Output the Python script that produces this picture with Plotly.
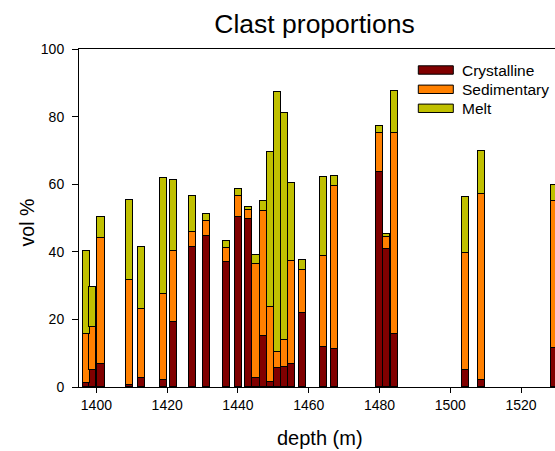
import plotly.graph_objects as go

# depth (m) of each sample
depth = [1397.1, 1399.0, 1401.3, 1409.4, 1412.8, 1418.9, 1421.8, 1427.1, 1431.1,
         1436.7, 1440.1, 1443.1, 1445.1, 1447.1, 1449.1, 1451.1, 1453.2, 1455.2,
         1458.3, 1464.1, 1467.4, 1480.1, 1482.1, 1484.3, 1504.4, 1508.7, 1529.5]

crystalline = [1.3, 4.9, 6.9, 0.5, 2.6, 2.0, 19.1, 41.4, 44.6,
               37.0, 50.3, 49.6, 2.8, 15.0, 1.6, 5.5, 6.0, 6.7,
               21.8, 11.8, 11.1, 63.6, 40.8, 15.6, 4.9, 2.0, 11.4]

sedimentary = [14.3, 12.9, 37.1, 31.3, 20.6, 25.4, 21.0, 4.4, 4.5,
               4.1, 6.3, 2.8, 33.5, 37.0, 22.2, 5.0, 7.8, 30.6,
               12.7, 27.0, 48.5, 11.5, 3.7, 59.5, 34.6, 55.0, 43.6]

melt = [24.5, 11.7, 6.4, 23.6, 18.3, 34.5, 21.0, 10.6, 2.1,
        2.2, 2.0, 0.9, 2.9, 3.0, 45.7, 76.8, 67.2, 23.1,
        3.0, 23.3, 2.8, 2.0, 0.7, 12.5, 16.6, 12.7, 4.7]

series_names = ["Crystalline", "Sedimentary", "Melt"]
series_values = [crystalline, sedimentary, melt]
series_colors = ["#800000", "#FF8000", "#C0C000"]

x_ticks = [1400, 1420, 1440, 1460, 1480, 1500, 1520]
y_ticks = [0, 20, 40, 60, 80, 100]

W, H = 555, 451
L, R, T, B = 79, 0, 49, 64
PW, PH = W - L - R, H - T - B

FONT = "Arial, Liberation Sans, sans-serif"

fig = go.Figure()
for name, vals, col in zip(series_names, series_values, series_colors):
    fig.add_trace(go.Bar(
        x=depth, y=vals, name=name, width=2.0,
        marker=dict(color=col, line=dict(color="black", width=1)),
        showlegend=False,
    ))


def px_x(px):
    return (px - L) / PW


def px_y(py):
    return 1 - (py - T) / PH


# custom legend (long flat swatches)
shapes = []
annotations = []
leg_rows = [70.0, 89.3, 108.3]
for name, col, yc in zip(series_names, series_colors, leg_rows):
    shapes.append(dict(type="rect", xref="paper", yref="paper",
                       x0=px_x(418.3), x1=px_x(453.3),
                       y0=px_y(yc + 4.2), y1=px_y(yc - 4.2),
                       fillcolor=col, line=dict(color="black", width=1)))
    annotations.append(dict(text=name, xref="paper", yref="paper",
                            x=px_x(460), y=px_y(yc), xanchor="left", yanchor="middle",
                            showarrow=False, font=dict(family=FONT, size=15.5, color="black")))

# axis titles
annotations.append(dict(text="depth (m)", xref="paper", yref="paper",
                        x=px_x(320), y=px_y(437.5), xanchor="center", yanchor="middle",
                        borderpad=0,
                        showarrow=False, font=dict(family=FONT, size=20, color="black")))
annotations.append(dict(text="vol %", xref="paper", yref="paper",
                        x=px_x(26.7), y=px_y(222.7), xanchor="center", yanchor="middle",
                        textangle=-90,
                        showarrow=False, font=dict(family=FONT, size=19.5, color="black")))

fig.update_layout(
    width=W, height=H,
    margin=dict(l=L, r=R, t=T, b=B, pad=0),
    paper_bgcolor="white", plot_bgcolor="white",
    barmode="stack", bargap=0,
    title=dict(text="Clast proportions", xref="container", yref="container",
               x=314.5 / W, y=1 - 24 / H, xanchor="center", yanchor="middle",
               font=dict(family=FONT, size=26.5, color="black")),
    font=dict(family=FONT, color="black"),
    shapes=shapes, annotations=annotations,
    xaxis=dict(range=[1395.08, 1529.6], tickvals=x_ticks, ticktext=[str(v) for v in x_ticks],
               showgrid=False, zeroline=False, showline=True, linecolor="black", linewidth=1,
               mirror=True, ticks="outside", ticklen=5, tickcolor="black", tickwidth=1,
               tickfont=dict(family=FONT, size=14, color="black")),
    yaxis=dict(range=[0, 100], tickvals=y_ticks, ticktext=[str(v) for v in y_ticks],
               showgrid=False, zeroline=False, showline=True, linecolor="black", linewidth=1,
               ticks="outside", ticklen=6, tickcolor="black", tickwidth=1,
               ticklabelstandoff=5,
               tickfont=dict(family=FONT, size=14, color="black")),
)

fig.write_html(
    "out.html",
    config={"displayModeBar": False},
    post_script="document.body.style.margin='0';document.body.style.overflow='hidden';",
)
